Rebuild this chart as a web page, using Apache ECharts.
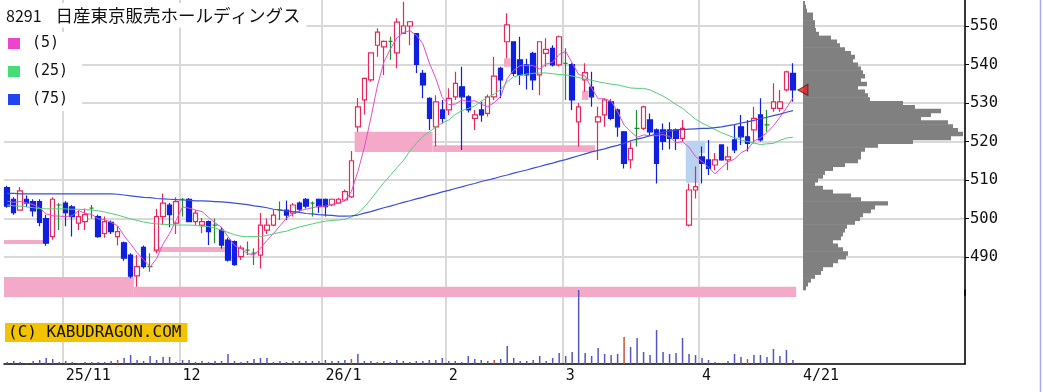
<!DOCTYPE html>
<html><head><meta charset="utf-8">
<script src="https://cdn.jsdelivr.net/npm/echarts@6/dist/echarts.min.js"></script>
<style>html,body{margin:0;padding:0;background:#fff}#c{width:1043px;height:392px}</style>
</head><body><div id="c"></div>
<script>
// ---------- data ----------
const titleCode = '8291';
const titleName = '日産東京販売ホールディングス';
const firstDay = '2025-10-21';
const lastDay = '2026-04-21';
const holidays = ['2025-11-03','2025-11-24','2025-12-31','2026-01-01','2026-01-02','2026-01-12','2026-02-11','2026-02-23','2026-03-20'];
const monthStarts = ['2025-11-04','2025-12-01','2026-01-05','2026-02-02','2026-03-02','2026-04-01'];
const monthLabels = ['25/11','12','26/1','2','3','4'];
const lastLabel = '4/21';
const emptySlots = 26;

const opens = [508,505,502.2,505,504.4,504.4,500,495.3,503.5,504,
503,498.8,499.2,502.7,500.5,496.1,499,495.3,493.7,490.5,
485.1,492.5,487.5,491.8,500.5,503.5,498.8,505,505,499.2,
498.3,499.2,498.3,497,494.4,494,490.1,491.8,491,490.5,
497,498.3,502.2,502.2,501.4,504,505,504,505,505,
503.5,504,504.8,505.6,523.8,530.8,536,545,544.6,546,
543,548.1,550,548,537.7,531.2,523.8,528.2,528.2,531.6,
534.2,531.6,526,528.2,527.3,531.6,539,545.9,545.9,541.2,
539.9,542.9,537.3,542.9,544.2,539.9,540.3,540,525.1,536,
534.1,525.1,526.9,530.3,528.2,522.5,515.2,523.4,523.4,525.6,
523,523,523,523,520.8,498.3,507.4,516,515.2,513.9,
519.1,515.2,520.4,523.8,521.2,523,526.9,524.3,528.6,528.6,
533.4,537.7];
const closes = [503.2,501.5,507.2,504,502,499,493.6,505,503.5,501.5,
500.5,500.5,501,502.7,495.3,499.2,496.6,496.6,489.7,485,
487.5,487.5,487.5,500.5,504,501,504.4,505,499.2,501.4,
499.2,496.6,498.3,493.1,489.2,488,492.3,491.8,491,498.3,
498.3,500.9,502.2,500.9,503.5,502.4,503.2,504,503.1,503.1,
505,505,507,515,529,536.4,543,548.4,546,546,
551,550,551.1,540,534.7,526,530.3,526,531.2,535.1,
531.6,528.2,526.9,526.9,531.6,537,536,550.3,537.7,537.3,
537.3,536,545.9,543.9,539.9,547.2,540.3,530.8,529,537.9,
531.6,526.4,530.8,526,523.8,514.3,518.2,523.4,529,522.5,
514.3,520,520.8,520.8,523.4,507.4,508.3,514.3,513,515.2,
515.2,516,517.8,521.2,519.5,526,520.4,524.3,530.3,530.3,
538.1,533.4];
const lows = [502.8,501,502,503,500.5,498,492.9,494.5,497,498,
495.3,497,497,500,495,495,496,493,489,484.5,
482.3,487,486.2,491,498.3,497.7,496,500.5,499,498.3,
496.2,493.1,493.6,492.2,488.8,487.7,489.2,490.5,487.9,487,
496,498,499.6,499.6,500.5,501.8,502.6,500.5,501.5,500.5,
503.2,503.8,504.5,505.3,522.5,527,535.5,542,537.3,541.2,
539,548,545,537.8,531.2,523,518.7,524.7,526.9,530.8,
517.8,527.5,523,525.1,526.5,530.8,531.2,541.6,537,534.7,
533.5,533.4,532,539.4,539.5,539.5,530.8,528.2,518.7,532.9,
529,515.2,523.8,525.5,521.2,513,513,518.7,523,521.7,
509.1,517.8,518,517.8,520,497.9,505.2,509.1,511.3,512.5,
515,512.6,517,519.1,517.4,519.5,520,522.5,527.7,527.7,
533,530.3];
const highs = [508.5,505.5,508.2,506,505,505,501,505.5,504,504.5,
503.5,502,502.6,503.5,501,500.5,499.5,498,494,491,
490.5,493,491,502.5,506.5,504,505.5,505.3,505.3,502.2,
500.1,499.5,500,497.8,495,494.3,493,494,492.3,501.4,
500,502.2,504.4,504.7,504,504.4,505.3,504.4,505.2,505.2,
505.2,505.3,507.5,517.5,531.3,536.6,543.2,549.4,546.2,547.2,
552,556.3,551.3,548.2,538.6,531.5,532,530.8,533.8,538.1,
539.4,532,528.2,530.3,532.2,542,539.4,553.3,546,547.2,
541.5,543.3,546,546.8,545,547.5,544.2,540.3,530,540.3,
538.1,529,531.2,531,528.6,522.7,520,528.2,529.3,527.3,
523.4,524.7,525,523.4,525.6,509.1,513.5,518.7,520.4,517,
519.3,518.7,524.3,526.9,525.6,529,531.2,528.2,535.1,533.4,
538.4,540.3];

const ma5 = [504.5,504.2,504.4,504.0,503.6,502.7,501.2,500.7,500.6,500.5,
500.7,502.1,501.3,501.1,499.9,499.7,499.0,498.1,495.5,493.4,
491.1,489.3,487.4,489.6,493.4,496.1,499.5,503.0,502.7,502.2,
501.8,500.3,498.9,497.7,495.3,493.0,492.2,490.9,490.5,492.3,
494.3,496.1,498.1,500.1,501.2,502.0,502.4,502.8,503.2,503.2,
503.7,504.0,504.6,507.0,512.2,518.5,526.1,534.4,540.6,544.0,
546.9,548.3,548.8,547.6,545.4,540.4,536.4,531.4,529.6,529.7,
530.8,530.4,530.6,529.7,529.0,530.1,531.7,536.4,538.5,539.7,
539.7,539.7,538.8,540.1,540.6,542.6,543.4,540.4,537.4,537.0,
533.9,531.1,531.1,530.5,527.7,524.3,522.6,521.1,521.7,521.5,
521.5,521.8,521.3,519.7,519.9,518.5,516.1,514.8,513.3,511.6,
513.2,514.7,515.4,517.1,517.9,520.1,521.0,522.3,524.1,526.3,
528.7,531.3];
const ma25 = [503.5,503.3,503.2,503.0,502.8,502.6,502.5,502.5,502.5,502.5,
502.4,502.4,502.3,502.2,502.0,501.7,501.3,500.9,500.4,499.9,
499.5,499.1,498.8,498.6,498.5,498.4,498.3,498.3,498.3,498.2,
498.0,497.9,497.5,497.0,496.4,495.8,495.4,495.3,495.3,495.3,
495.6,496.0,496.4,496.7,497.3,497.8,498.2,498.6,499.0,499.3,
499.5,499.6,499.8,500.4,501.3,503.0,505.0,507.2,509.3,511.2,
513.2,515.0,517.5,519.5,521.3,522.5,523.8,524.8,525.6,527.0,
528.0,528.6,529.2,530.5,531.5,532.3,533.5,535.5,536.8,537.2,
537.5,537.7,537.8,537.8,537.6,537.4,537.3,537.0,536.6,536.2,
535.9,535.5,535.2,534.9,534.7,534.3,533.9,533.8,533.8,533.4,
532.6,531.8,530.8,529.6,528.6,527.2,525.8,524.8,524.0,523.1,
522.3,521.6,521.0,520.4,520.0,519.6,519.2,519.4,519.5,520.3,
520.9,521.1];
const ma75 = [506.5,506.5,506.4,506.4,506.4,506.4,506.4,506.4,506.4,506.4,
506.4,506.4,506.4,506.4,506.4,506.4,506.4,506.3,506.1,505.9,
505.7,505.5,505.4,505.2,505.1,505.0,504.9,504.8,504.7,504.6,
504.6,504.5,504.4,504.3,504.2,504.0,503.8,503.6,503.3,503.1,
502.8,502.4,502.2,502.0,501.8,501.6,501.3,501.2,501.0,500.9,
500.8,500.6,500.6,500.7,500.9,501.4,501.8,502.3,502.8,503.2,
503.7,504.2,504.6,505.1,505.5,506.0,506.4,506.9,507.3,507.8,
508.2,508.7,509.1,509.6,510.0,510.4,510.9,511.3,511.8,512.2,
512.6,513.1,513.5,514.0,514.4,514.9,515.3,515.8,516.3,516.8,
517.3,517.7,518.1,518.6,519.0,519.5,520.2,520.6,521.0,521.5,
522.0,522.4,522.7,523.0,523.1,523.2,523.3,523.4,523.4,523.6,
523.8,524.1,524.4,524.8,525.1,525.5,525.9,526.3,526.7,527.1,
527.6,528.0];

const volumes = [2,3,2,1,3,4,6,5,2,3,
2,1,2,2,2,2,3,4,6,9,
4,3,8,4,7,7,2,4,4,2,
3,2,3,3,10,3,2,3,5,6,
6,2,3,2,3,3,3,3,3,4,
3,3,4,5,10,3,3,2,3,2,
4,3,2,3,3,4,4,6,3,3,
2,8,5,4,3,4,5,18,6,3,
3,4,8,3,6,11,8,12,74,11,
8,16,10,9,10,27,17,26,12,9,
34,12,10,11,26,10,9,6,4,2,
1,3,10,7,5,9,9,7,15,8,
14,4];
const redVolumeDays = [17,53,75,95,114];

// gap zones: [first day index, stop day index, low, high, kind]
const gapZones = [
  [0, 20, 479.6, 484.8, 'up'],
  [20, 122, 479.6, 482.3, 'up'],
  [0, 6, 493.4, 494.4, 'up'],
  [23, 34, 491.3, 492.6, 'up'],
  [54, 66, 517.3, 522.5, 'up'],
  [66, 91, 517.3, 519.0, 'up'],
  [77, 78, 539.4, 541.6, 'up'],
  [89, 90, 530.8, 533.2, 'up'],
  [105, 107, 509.3, 520.2, 'down'],
  [107, 108, 517.0, 520.2, 'down']
];

// price-by-volume profile
const profilePrices = [556,555,554,553,552,551,550,549,548,547,546,545,544,543,542,541,540,539,538,537,536,535,534,533,532,531,530,529,528,527,526,525,524,523,522,521,520,519,518,517,516,515,514,513,512,511,510,509,508,507,506,505,504,503,502,501,500,499,498,497,496,495,494,493,492,491,490,489,488,487,486,485,484,483,482];
const profileVolumes = [2,3,4,10,10,12,12,13,16,28,34,37,42,48,52,50,55,58,60,62,58,64,55,62,65,67,100,112,138,128,118,145,150,155,160,148,110,75,62,58,58,55,42,30,22,20,15,12,20,30,48,58,85,72,68,60,57,52,44,42,40,38,30,35,40,45,43,35,30,20,18,12,8,5,3];

// ---------- build ----------
function tradingDays(from, to, hol) {
  const out = [];
  let t = Date.parse(from + 'T00:00:00Z');
  const end = Date.parse(to + 'T00:00:00Z');
  while (t <= end) {
    const d = new Date(t);
    const wd = d.getUTCDay();
    const s = d.toISOString().slice(0, 10);
    if (wd !== 0 && wd !== 6 && hol.indexOf(s) < 0) out.push(s);
    t += 86400000;
  }
  return out;
}
const dates = tradingDays(firstDay, lastDay, holidays);
const categories = dates.concat(Array.from({length: emptySlots}, (_, k) => 'slot' + k));
const labelOf = {};
monthStarts.forEach((d, k) => { labelOf[d] = monthLabels[k]; });
labelOf[dates[dates.length - 1]] = '{e|' + lastLabel + '}';

const gridColor = '#d9d9d9';
const monoFont = 'DejaVu Sans Mono';
const splitFn = (idx, val) => monthStarts.indexOf(categories[idx]) >= 0;

const chart = echarts.init(document.getElementById('c'), null, {renderer: 'canvas'});
chart.setOption({
  animation: false,
  backgroundColor: '#ffffff',
  title: {
    text: '{a|' + titleCode + '}{b|' + titleName + '}',
    left: 0, top: 3,
    padding: [4, 6, 3, 6],
    backgroundColor: '#ffffff',
    textStyle: {
      fontWeight: 'normal',
      rich: {
        a: {fontFamily: 'Noto Sans CJK JP', fontSize: 16, fontWeight: 'normal', color: '#111', padding: [0, 14, 0, 0]},
        b: {fontFamily: 'Noto Sans CJK JP', fontSize: 17.5, fontWeight: 'normal', color: '#111'}
      }
    }
  },
  legend: {
    data: ['(5)', '(25)', '(75)'],
    orient: 'vertical', left: 2, top: 32,
    padding: [4, 14, 4, 6],
    backgroundColor: '#ffffff',
    icon: 'rect', itemWidth: 12, itemHeight: 11, itemGap: 13,
    selectedMode: false,
    textStyle: {fontFamily: monoFont, fontSize: 15, color: '#111', padding: [0, 0, 0, 7], lineHeight: 13}
  },
  grid: [
    {left: 4, right: 78, top: 0, bottom: 96.5},
    {left: 4, right: 78, top: 290, bottom: 28},
    {left: 803, right: 78, top: 0, bottom: 96.5}
  ],
  xAxis: [
    {type: 'category', gridIndex: 0, data: categories, boundaryGap: true,
     axisLine: {show: false}, axisTick: {show: false}, axisLabel: {show: false},
     splitLine: {show: true, interval: splitFn, lineStyle: {color: gridColor, width: 2}}},
    {type: 'category', gridIndex: 1, data: categories, boundaryGap: true,
     axisLine: {show: true, lineStyle: {color: '#000', width: 1.5}}, axisTick: {show: false},
     axisLabel: {show: true, interval: (idx, val) => labelOf[categories[idx]] !== undefined,
       formatter: (val) => labelOf[val] || '', align: 'left', margin: 5,
       fontFamily: monoFont, fontSize: 15, color: '#111',
       rich: {e: {fontFamily: monoFont, fontSize: 15, color: '#111', padding: [0, 0, 0, 10]}}},
     splitLine: {show: true, interval: splitFn, lineStyle: {color: gridColor, width: 2}}},
    {type: 'value', gridIndex: 2, min: 0, max: 162, show: false}
  ],
  yAxis: [
    {type: 'value', gridIndex: 0, position: 'right', min: 480, max: 556.75, interval: 10,
     axisLine: {show: true, lineStyle: {color: '#000', width: 1.5}},
     axisTick: {show: true, length: 4, lineStyle: {color: '#000'}},
     axisLabel: {show: true, margin: 5, fontFamily: monoFont, fontSize: 15.5, color: '#111',
       showMinLabel: false, showMaxLabel: false},
     splitLine: {show: true, showMinLine: false, showMaxLine: false, lineStyle: {color: gridColor, width: 2}}},
    {type: 'value', gridIndex: 1, position: 'right', min: 0, max: 74,
     axisLine: {show: true, onZero: false, lineStyle: {color: '#000', width: 1.5}},
     axisTick: {show: false}, axisLabel: {show: false}, splitLine: {show: false}},
    {type: 'value', gridIndex: 2, min: 480, max: 556.75, show: false}
  ],
  series: [
    {
      type: 'custom', name: 'gaps', xAxisIndex: 0, yAxisIndex: 0, z: 1, silent: true, clip: false,
      data: gapZones.map(g => [g[0], g[1], g[2], g[3], g[4] === 'up' ? 0 : 1]),
      encode: {x: [0, 1], y: [2, 3]},
      renderItem: (params, api) => {
        const bw = api.size([1, 0])[0];
        const p1 = api.coord([api.value(0), api.value(3)]);
        const p2 = api.coord([api.value(1), api.value(2)]);
        const x1 = p1[0] - bw / 2, x2 = p2[0] - bw / 2;
        return {type: 'rect', shape: {x: x1, y: p1[1], width: x2 - x1, height: p2[1] - p1[1]},
          style: {fill: api.value(4) ? '#b9d3f1' : '#f5a9c9'}};
      }
    },
    {
      type: 'custom', name: 'profile', xAxisIndex: 2, yAxisIndex: 2, z: 1, silent: true, clip: false,
      data: profilePrices.map((p, i) => [p, profileVolumes[i]]),
      encode: {x: 1, y: 0},
      renderItem: (params, api) => {
        const p = api.value(0), v = api.value(1);
        const a = api.coord([0, p + 0.5]);
        const b = api.coord([v, p - 0.5]);
        return {type: 'rect', shape: {x: a[0], y: a[1], width: b[0] - a[0], height: b[1] - a[1] + 0.6},
          style: {fill: '#808080'}};
      }
    },
    {
      type: 'candlestick', name: 'price', xAxisIndex: 0, yAxisIndex: 0, z: 3, silent: true,
      barWidth: 5,
      data: dates.map((d, i) => [opens[i], closes[i], lows[i], highs[i]]),
      itemStyle: {color: '#ffffff', color0: '#1020e0', borderColor: '#e8285c', borderColor0: '#1020e0',
        borderColorDoji: '#1f8f2a', borderWidth: 1.2}
    },
    {type: 'line', name: '(5)', xAxisIndex: 0, yAxisIndex: 0, z: 4, data: ma5, showSymbol: false, silent: true,
     color: '#e845c8', itemStyle: {color: '#ee44cc'}, lineStyle: {color: '#e14fcc', width: 1}},
    {type: 'line', name: '(25)', xAxisIndex: 0, yAxisIndex: 0, z: 4, data: ma25, showSymbol: false, silent: true,
     color: '#44dd77', itemStyle: {color: '#44dd77'}, lineStyle: {color: '#55cc7a', width: 1}},
    {type: 'line', name: '(75)', xAxisIndex: 0, yAxisIndex: 0, z: 4, data: ma75, showSymbol: false, silent: true,
     color: '#2244ee', itemStyle: {color: '#2244ee'}, lineStyle: {color: '#3b4fd6', width: 1.2}},
    {
      type: 'scatter', name: 'last', xAxisIndex: 0, yAxisIndex: 0, z: 5, silent: true,
      data: [[dates[dates.length - 1], closes[closes.length - 1]]],
      symbol: 'triangle', symbolSize: [11, 10], symbolRotate: 90, symbolOffset: [10, 0],
      itemStyle: {color: '#e82020', borderColor: '#601010', borderWidth: 1}
    },
    {
      type: 'bar', name: 'volume', xAxisIndex: 1, yAxisIndex: 1, silent: true, barWidth: 1.5,
      data: volumes.map((v, i) => ({value: v, itemStyle: {color: redVolumeDays.indexOf(i) >= 0 ? '#c8503f' : '#5555c0'}}))
    }
  ],
  graphic: [
    {type: 'text', left: 5, top: 323, z: 10,
     style: {text: '(C) KABUDRAGON.COM', font: '16px "DejaVu Sans Mono"', fill: '#111',
       backgroundColor: '#f3c300', padding: [2, 6, 1, 3]}},
    {type: 'line', z: 10, shape: {x1: 1040.5, y1: 0, x2: 1040.5, y2: 392},
     style: {stroke: '#a9a9ee', lineWidth: 1.5}}
  ]
});
</script>
</body></html>
